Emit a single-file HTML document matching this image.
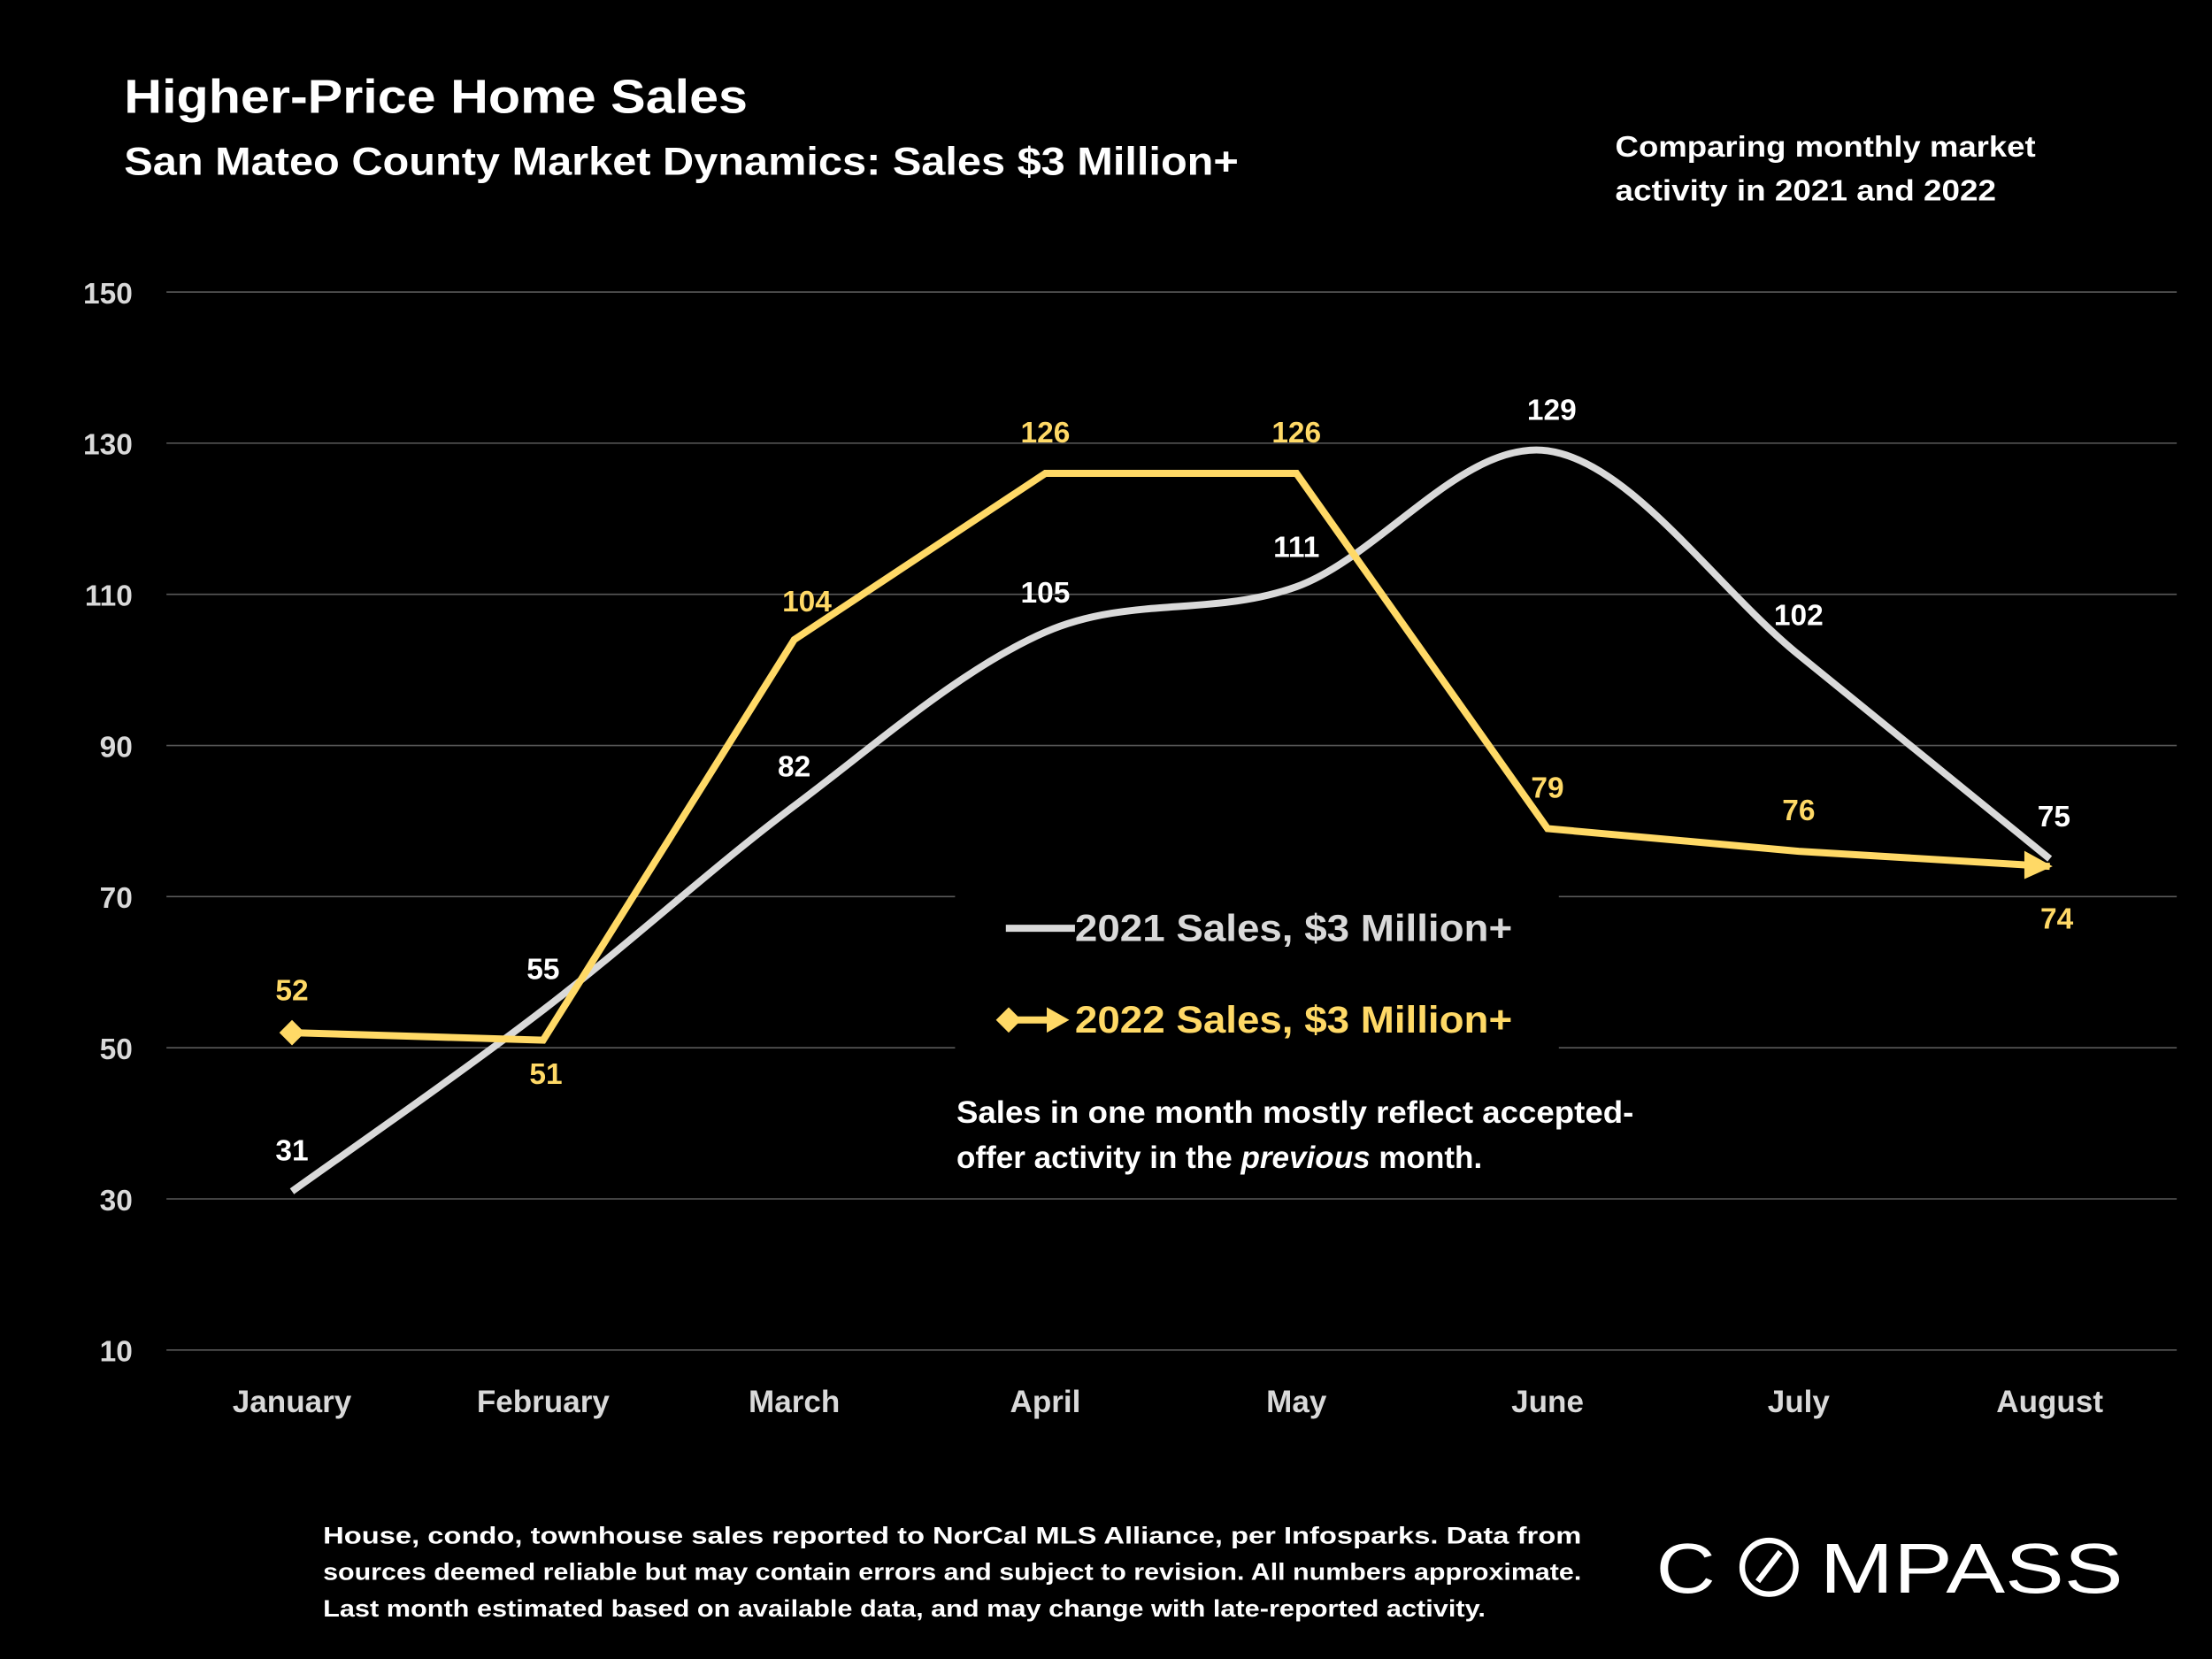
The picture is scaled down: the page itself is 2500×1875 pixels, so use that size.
<!DOCTYPE html>
<html><head><meta charset="utf-8"><style>
html,body{margin:0;padding:0;background:#000;}
svg{display:block;font-family:"Liberation Sans",sans-serif;font-weight:bold;}
</style></head><body>
<svg id="chart" width="2500" height="1875" viewBox="0 0 1568 1176" xmlns="http://www.w3.org/2000/svg">
<rect width="1568" height="1176" fill="#000"/>
<text x="88" y="80" fill="#fff" font-size="34" textLength="442" lengthAdjust="spacingAndGlyphs">Higher-Price Home Sales</text>
<text x="88" y="124" fill="#fff" font-size="28" textLength="790" lengthAdjust="spacingAndGlyphs">San Mateo County Market Dynamics: Sales $3 Million+</text>
<text fill="#fff" font-size="21"><tspan x="1145" y="111" textLength="298" lengthAdjust="spacingAndGlyphs">Comparing monthly market</tspan><tspan x="1145" y="142" textLength="270" lengthAdjust="spacingAndGlyphs">activity in 2021 and 2022</tspan></text>
<g id="grid"></g>
<g id="yaxis"></g>
<g id="xaxis"></g>
<rect x="677" y="628" width="428" height="118" fill="#000"/>
<g id="series"></g>
<g>
<g><line x1="713" y1="658" x2="762" y2="658" stroke="#d9d9d9" stroke-width="5"/><text x="762" y="667" fill="#d9d9d9" font-size="27" textLength="310" lengthAdjust="spacingAndGlyphs">2021 Sales, $3 Million+</text></g>
<g><line x1="713" y1="723" x2="745" y2="723" stroke="#ffd966" stroke-width="5"/><path d="M706 723 L715 714 L724 723 L715 732 Z" fill="#ffd966"/><path d="M742 714 L758 723 L742 732 Z" fill="#ffd966"/><text x="762" y="732" fill="#ffd966" font-size="27" textLength="310" lengthAdjust="spacingAndGlyphs">2022 Sales, $3 Million+</text></g>
</g>
<text fill="#fff" font-size="22"><tspan x="678" y="796" textLength="480" lengthAdjust="spacingAndGlyphs">Sales in one month mostly reflect accepted-</tspan><tspan x="678" y="828">offer activity in the <tspan font-style="italic">previous</tspan> month.</tspan></text>
<text fill="#fff" font-size="17"><tspan x="229" y="1094" textLength="892" lengthAdjust="spacingAndGlyphs">House, condo, townhouse sales reported to NorCal MLS Alliance, per Infosparks. Data from</tspan><tspan x="229" y="1120" textLength="892" lengthAdjust="spacingAndGlyphs">sources deemed reliable but may contain errors and subject to revision. All numbers approximate.</tspan><tspan x="229" y="1146" textLength="824" lengthAdjust="spacingAndGlyphs">Last month estimated based on available data, and may change with late-reported activity.</tspan></text>
<g fill="#fff">
<text x="1174" y="1129" font-size="50" font-weight="normal" textLength="42" lengthAdjust="spacingAndGlyphs">C</text>
<circle cx="1254" cy="1111" r="19" fill="none" stroke="#fff" stroke-width="4"/>
<line x1="1246" y1="1121" x2="1262" y2="1100" stroke="#fff" stroke-width="4"/>
<text x="1290" y="1129" font-size="50" font-weight="normal" textLength="215" lengthAdjust="spacingAndGlyphs">MPASS</text>
</g>
</svg>
<script>
const months=["January","February","March","April","May","June","July","August"];
const sales2021=[31,55,82,105,111,129,102,75];
const sales2022=[52,51,104,126,126,79,76,74];
const yTicks=[10,30,50,70,90,110,130,150];
const NS="http://www.w3.org/2000/svg";
function X(i){return 207+i*178;}
function Y(v){return 957-(v-10)*750/140;}
function mk(tag,attrs,parent,txt){const e=document.createElementNS(NS,tag);for(const k in attrs)e.setAttribute(k,attrs[k]);if(txt!==undefined)e.textContent=txt;parent.appendChild(e);return e;}
const grid=document.getElementById('grid'),ya=document.getElementById('yaxis'),xa=document.getElementById('xaxis'),ser=document.getElementById('series');
yTicks.forEach(t=>{
  const l=mk('line',{x1:118,x2:1543,y1:Y(t),y2:Y(t),stroke:'#595959','stroke-width':1},grid);
  
  
  const tx=mk('text',{x:94,y:Y(t)+8,fill:'#d9d9d9','font-size':21,'text-anchor':'end'},ya,t);
  
  
});
months.forEach((m,i)=>{
  const tx=mk('text',{x:X(i),y:1001,fill:'#d9d9d9','font-size':22,'text-anchor':'middle'},xa,m);
  
  
});
const p=sales2021.map((v,i)=>[X(i),Y(v)]);
let d='M'+p[0][0]+' '+p[0][1];
for(let i=0;i<p.length-1;i++){
  const p0=p[Math.max(0,i-1)],p1=p[i],p2=p[i+1],p3=p[Math.min(p.length-1,i+2)];
  const t=1/6;
  d+=` C${p1[0]+(p2[0]-p0[0])*t} ${p1[1]+(p2[1]-p0[1])*t} ${p2[0]-(p3[0]-p1[0])*t} ${p2[1]-(p3[1]-p1[1])*t} ${p2[0]} ${p2[1]}`;
}
const l1=mk('path',{d:d,fill:'none',stroke:'#d9d9d9','stroke-width':5},ser);


const l2=mk('polyline',{points:sales2022.map((v,i)=>X(i)+','+Y(v)).join(' '),fill:'none',stroke:'#ffd966','stroke-width':5,'stroke-linejoin':'miter'},ser);


const x0=X(0),y0=Y(sales2022[0]);
const dm=mk('path',{d:`M${x0-9} ${y0} L${x0} ${y0-9} L${x0+9} ${y0} L${x0} ${y0+9} Z`,fill:'#ffd966'},ser);


const n=sales2022.length-1,xe=X(n),ye=Y(sales2022[n]);
const ar=mk('path',{d:`M${xe-18} ${ye-11} L${xe+2} ${ye} L${xe-18} ${ye+9} Z`,fill:'#ffd966'},ser);


const off21=[[0,-30],[0,-30],[0,-29],[0,-29],[0,-29],[3,-30],[0,-29],[3,-31]];
sales2021.forEach((v,i)=>{
  const t=mk('text',{x:X(i)+off21[i][0],y:Y(v)+off21[i][1]+8,fill:'#fff','font-size':21,'text-anchor':'middle'},ser,v);
  
  
});
const off22=[[0,-31],[2,23],[9,-28],[0,-30],[0,-30],[0,-30],[0,-30],[5,36]];
sales2022.forEach((v,i)=>{
  const t=mk('text',{x:X(i)+off22[i][0],y:Y(v)+off22[i][1]+8,fill:'#ffd966','font-size':21,'text-anchor':'middle'},ser,v);
  
  
});
</script>
</body></html>
